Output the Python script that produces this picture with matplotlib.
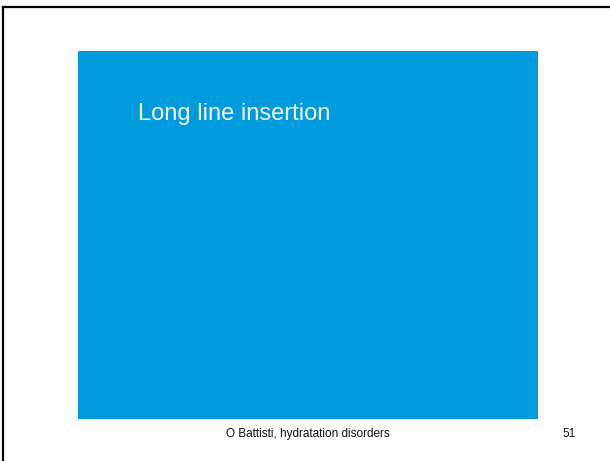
import matplotlib
matplotlib.use('Agg')
import matplotlib.pyplot as plt
from matplotlib.patches import Rectangle

# slide texts
title = 'Long line insertion'
footer = 'O Battisti, hydratation disorders'
page_number = '51'

W, H = 610, 461
fig = plt.figure(figsize=(W / 100, H / 100), dpi=100)
ax = fig.add_axes([0, 0, 1, 1])
ax.set_xlim(0, W)
ax.set_ylim(H, 0)
ax.axis('off')

plt.rcParams['font.family'] = ['Liberation Sans', 'DejaVu Sans']

# slide frame (only left and top edges visible)
ax.plot([2.8, 2.8], [H, 6.8], color='black', lw=1.6, solid_capstyle='projecting')
ax.plot([2.8, W], [6.8, 6.8], color='black', lw=1.6, solid_capstyle='projecting')

# blue panel
ax.add_patch(Rectangle((78, 51), 460, 367.5, facecolor='#009ADD', edgecolor='none'))

ax.text(138, 120, title, color='#F2F6FA', fontsize=17, ha='left', va='baseline')
ax.text(308, 433.5, footer, color='#111111', fontsize=8.5, ha='center', va='center')
ax.text(569.5, 433.5, page_number, color='#111111', fontsize=8.5, ha='center', va='center')

fig.savefig('out.png', dpi=100)
plt.close(fig)
